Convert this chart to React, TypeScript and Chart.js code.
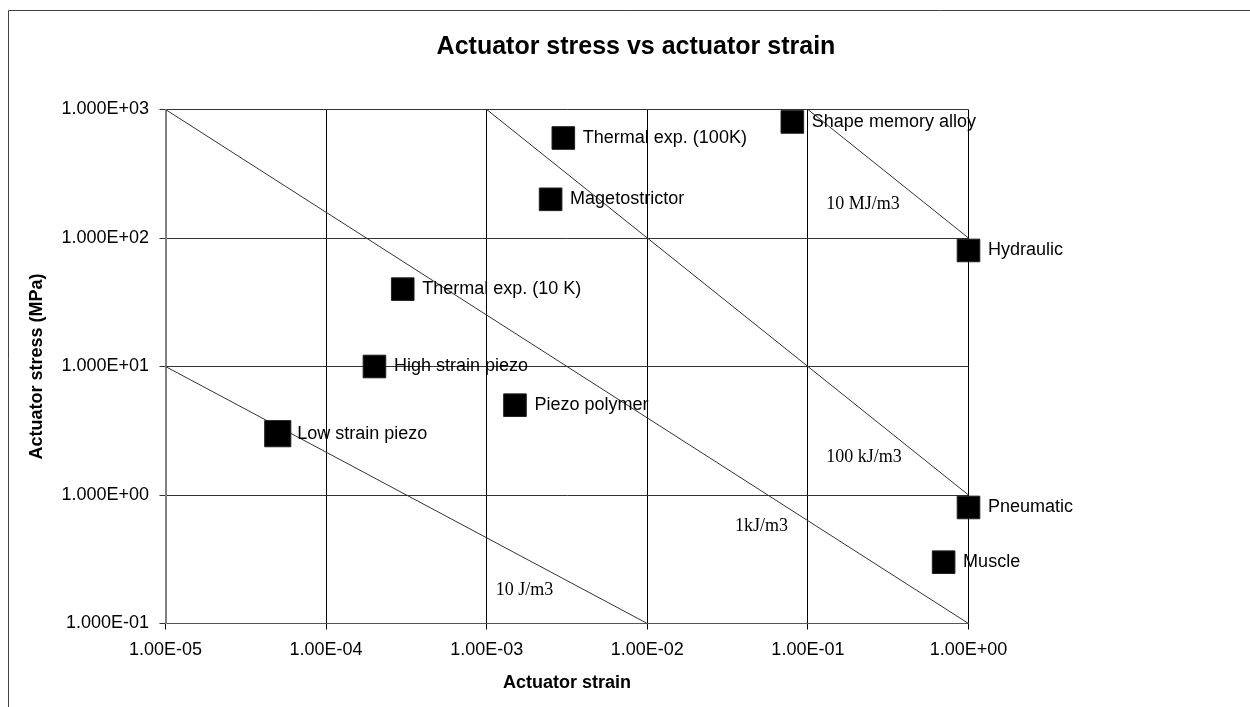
import React, { useEffect, useRef } from "react";
import { Chart, registerables } from "chart.js";

Chart.register(...registerables);

// ---- data ----
const materials = [
  "Low strain piezo",
  "High strain piezo",
  "Thermal exp. (10 K)",
  "Piezo polymer",
  "Magetostrictor",
  "Thermal exp. (100K)",
  "Shape memory alloy",
  "Hydraulic",
  "Pneumatic",
  "Muscle",
];
const strainValues = [5e-5, 2e-4, 3e-4, 1.5e-3, 2.5e-3, 3e-3, 0.08, 1, 1, 0.7];
const stressValues = [3, 10, 40, 5, 200, 600, 800, 80, 0.8, 0.3];

const energyLabels = ["10 J/m3", "1kJ/m3", "100 kJ/m3", "10 MJ/m3"];
const energyStrainEnds = [
  [1e-5, 1e-2],
  [1e-5, 1],
  [1e-3, 1],
  [0.1, 1],
];
const energyStressEnds = [
  [10, 0.1],
  [1000, 0.1],
  [1000, 1],
  [1000, 100],
];
const energyLabelStrain = [1.14e-3, 0.0352, 0.13, 0.13];
const energyLabelStress = [0.181, 0.575, 1.96, 184];

const xTickValues = [1e-5, 1e-4, 1e-3, 1e-2, 1e-1, 1];
const xTickLabels = ["1.00E-05", "1.00E-04", "1.00E-03", "1.00E-02", "1.00E-01", "1.00E+00"];
const yTickValues = [0.1, 1, 10, 100, 1000];
const yTickLabels = ["1.000E-01", "1.000E+00", "1.000E+01", "1.000E+02", "1.000E+03"];

const titleText = "Actuator stress vs actuator strain";
const xTitle = "Actuator strain";
const yTitle = "Actuator stress (MPa)";

const SANS = '"Liberation Sans", Arial, sans-serif';
const SERIF = '"Liberation Serif", "Times New Roman", serif';

const decoPlugin = {
  id: "deco",
  beforeDraw(chart: any) {
    const ctx = chart.ctx;
    ctx.save();
    ctx.strokeStyle = "#404040";
    ctx.lineWidth = 1;
    ctx.beginPath();
    ctx.moveTo(8.5, 707);
    ctx.lineTo(8.5, 10.5);
    ctx.lineTo(1250, 10.5);
    ctx.stroke();
    ctx.fillStyle = "#000";
    ctx.font = `bold 25px ${SANS}`;
    ctx.textAlign = "center";
    ctx.textBaseline = "middle";
    ctx.fillText(titleText, 636, 47.5);
    ctx.restore();
  },
  afterDatasetsDraw(chart: any) {
    const ctx = chart.ctx;
    const meta = chart.getDatasetMeta(0);
    const xs = chart.scales.x;
    const ys = chart.scales.y;
    ctx.save();
    ctx.fillStyle = "#000";
    ctx.textAlign = "left";
    ctx.textBaseline = "middle";
    ctx.font = `18px ${SANS}`;
    meta.data.forEach((el: any, i: number) => {
      ctx.fillText(materials[i], el.x + 19.5, el.y);
    });
    ctx.font = `18px ${SERIF}`;
    energyLabels.forEach((t, i) => {
      ctx.fillText(t, xs.getPixelForValue(energyLabelStrain[i]), ys.getPixelForValue(energyLabelStress[i]));
    });
    ctx.restore();
  },
};

export default function App() {
  const ref = useRef<HTMLCanvasElement | null>(null);

  useEffect(() => {
    if (!ref.current) return;
    const lineSets = energyLabels.map((lab, i) => ({
      label: lab,
      data: energyStrainEnds[i].map((x, j) => ({ x, y: energyStressEnds[i][j] })),
      showLine: true,
      borderColor: "#333333",
      borderWidth: 1,
      pointRadius: 0,
      fill: false,
    }));
    const chart = new Chart(ref.current, {
      type: "scatter",
      data: {
        datasets: [
          {
            label: "Actuators",
            data: strainValues.map((x, i) => ({ x, y: stressValues[i] })),
            pointStyle: "rect",
            backgroundColor: "#000",
            borderColor: "#222",
            borderWidth: 1,
            pointRadius: (c: any) => (c.dataIndex === 0 ? 18.5 : 16),
            showLine: false,
            clip: false,
          } as any,
          ...lineSets,
        ],
      },
      options: {
        animation: false,
        responsive: false,
        events: [],
        layout: { padding: { left: 0, top: 109.5, right: 281.5, bottom: 0 } },
        plugins: {
          legend: { display: false },
          tooltip: { enabled: false },
          title: { display: false },
        },
        scales: {
          x: {
            type: "logarithmic",
            min: 1e-5,
            max: 1,
            afterBuildTicks: (s: any) => {
              s.ticks = xTickValues.map((value) => ({ value }));
            },
            afterFit: (s: any) => {
              s.height = 83.5;
            },
            ticks: {
              autoSkip: false,
              maxRotation: 0,
              padding: 10,
              color: "#000",
              font: { family: SANS, size: 18 },
              callback: (_v: any, i: number) => xTickLabels[i],
            },
            grid: { color: "#000", lineWidth: 1, tickLength: 6, drawTicks: true },
            border: { display: true, color: "#555", width: 1 },
            title: {
              display: true,
              text: xTitle,
              color: "#000",
              font: { family: SANS, size: 18, weight: "bold" },
              padding: { top: 0, bottom: 12.7 },
            },
          },
          y: {
            type: "logarithmic",
            min: 0.1,
            max: 1000,
            afterBuildTicks: (s: any) => {
              s.ticks = yTickValues.map((value) => ({ value }));
            },
            afterFit: (s: any) => {
              s.width = 165.5;
            },
            ticks: {
              autoSkip: false,
              padding: 10.5,
              color: "#000",
              font: { family: SANS, size: 18 },
              callback: (_v: any, i: number) => yTickLabels[i],
            },
            grid: { color: "#333", lineWidth: 1, tickLength: 6, drawTicks: true },
            border: { display: true, color: "#808080", width: 2 },
            title: {
              display: true,
              text: yTitle,
              color: "#000",
              font: { family: SANS, size: 18, weight: "bold" },
              padding: { top: 26.7, bottom: 0 },
            },
          },
        },
      } as any,
      plugins: [decoPlugin as any],
    });
    return () => chart.destroy();
  }, []);

  return (
    <div style={{ position: "absolute", left: 0, top: 0, width: 1250, height: 707, background: "#fff" }}>
      <canvas ref={ref} width={1250} height={707} style={{ display: "block", width: 1250, height: 707 }} />
    </div>
  );
}
